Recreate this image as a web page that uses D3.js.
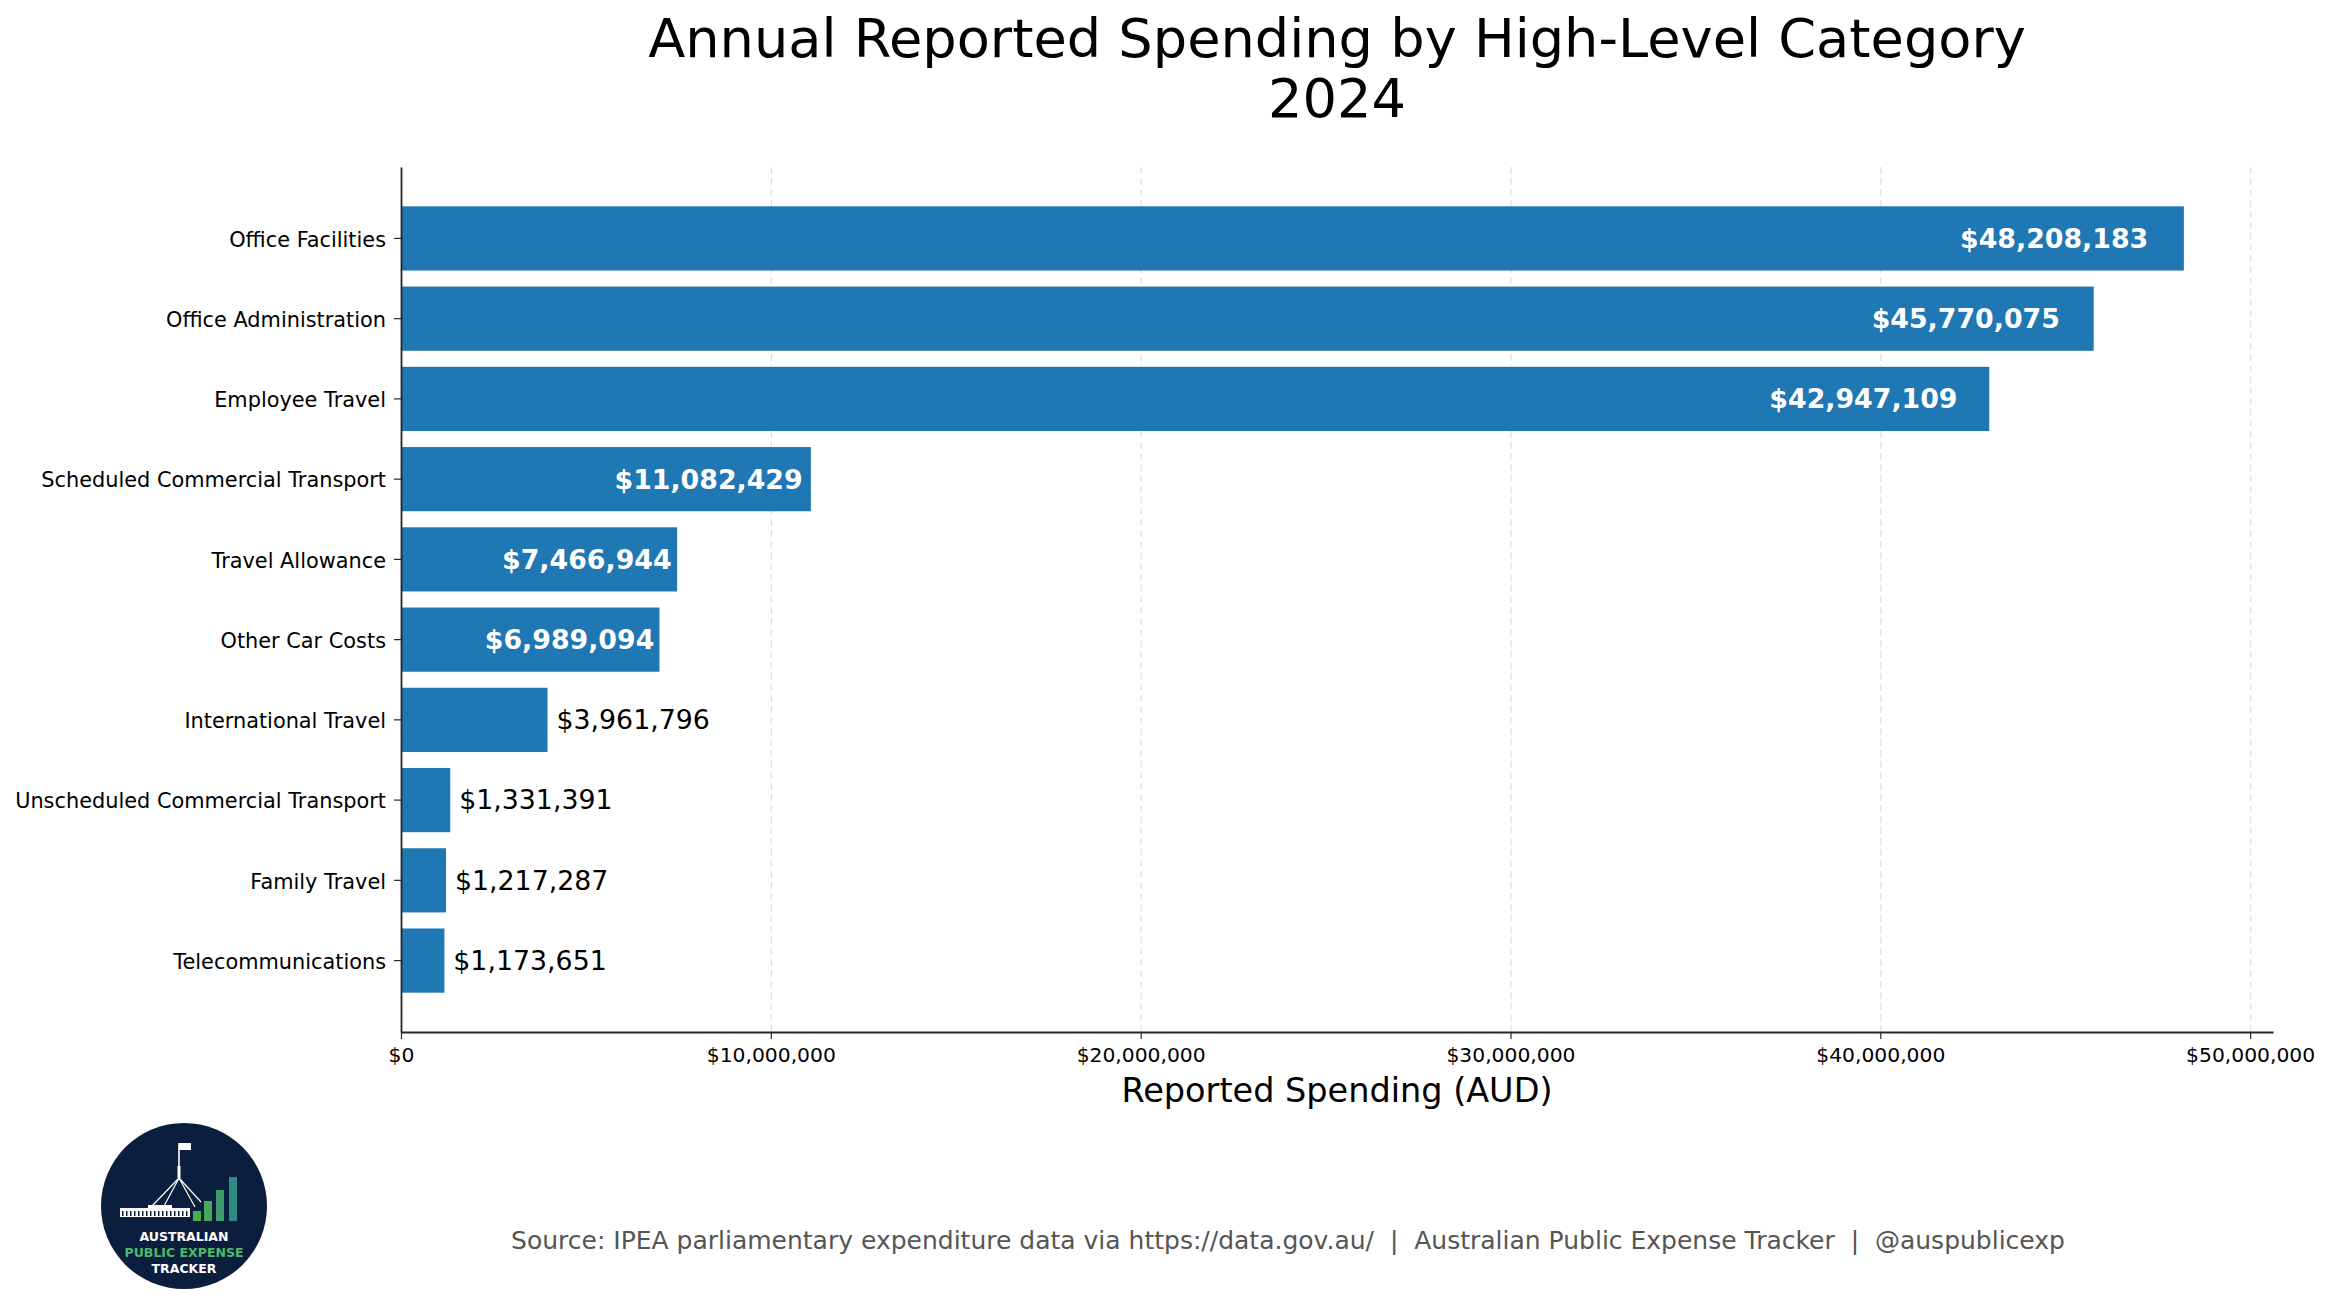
<!DOCTYPE html>
<html>
<head>
<meta charset="utf-8">
<script src="https://cdn.jsdelivr.net/npm/d3@7"></script>
<style>
  body { margin: 0; background: #fff; }
  text { font-family: "DejaVu Sans", sans-serif; }
</style>
</head>
<body>
<div id="chart"></div>
<script>
// Data
var categories = [
  "Office Facilities",
  "Office Administration",
  "Employee Travel",
  "Scheduled Commercial Transport",
  "Travel Allowance",
  "Other Car Costs",
  "International Travel",
  "Unscheduled Commercial Transport",
  "Family Travel",
  "Telecommunications"
];
var spending = [48208183, 45770075, 42947109, 11082429, 7466944, 6989094, 3961796, 1331391, 1217287, 1173651];
var xTicks = [0, 10000000, 20000000, 30000000, 40000000, 50000000];

var titleLines = ["Annual Reported Spending by High-Level Category", "2024"];
var xLabel = "Reported Spending (AUD)";
var sourceText = "Source: IPEA parliamentary expenditure data via https://data.gov.au/  |  Australian Public Expense Tracker  |  @auspublicexp";

var data = categories.map(function(c, i) { return { name: c, value: spending[i] }; });

// SVG area
var svgWidth = 2331;
var svgHeight = 1310;

var plot = { left: 401, right: 2273, top: 167, bottom: 1032 };

var svg = d3.select("#chart")
  .append("svg")
  .attr("width", svgWidth)
  .attr("height", svgHeight);

var maxVal = d3.max(spending);

// Scales
var xScale = d3.scaleLinear()
  .domain([0, maxVal * 1.05])
  .range([plot.left, plot.right]);

var yScale = d3.scaleBand()
  .domain(categories)
  .range([plot.top, plot.bottom])
  .paddingInner(0.2)
  .paddingOuter(0.49);

var money = d3.format("$,.0f");

// Grid lines (dashed, light)
var grid = svg.append("g")
  .attr("transform", "translate(0," + plot.bottom + ")")
  .call(d3.axisBottom(xScale).tickValues(xTicks).tickSize(-(plot.bottom - plot.top)).tickFormat(""));
grid.select(".domain").remove();
grid.selectAll("line")
  .attr("stroke", "#e2e2e2")
  .attr("stroke-width", 1.3)
  .attr("stroke-dasharray", "7,4");

// Bars
svg.append("g").selectAll("rect")
  .data(data)
  .enter()
  .append("rect")
  .attr("x", xScale(0))
  .attr("y", d => yScale(d.name))
  .attr("width", d => xScale(d.value) - xScale(0))
  .attr("height", yScale.bandwidth())
  .attr("fill", "#1f77b4");

// Value labels: inside for big bars, outside for small ones
svg.append("g").selectAll("text")
  .data(data)
  .enter()
  .append("text")
  .text(d => money(d.value))
  .attr("x", function(d) {
    if (d.value > maxVal * 0.1) return xScale(d.value * 0.98);
    return xScale(d.value + maxVal * 0.005);
  })
  .attr("y", d => yScale(d.name) + yScale.bandwidth() / 2)
  .attr("dy", "0.35em")
  .attr("text-anchor", d => d.value > maxVal * 0.1 ? "end" : "start")
  .attr("font-weight", d => d.value > maxVal * 0.1 ? "bold" : "normal")
  .attr("fill", d => d.value > maxVal * 0.1 ? "#ffffff" : "#000000")
  .attr("font-size", "26.8px");

// Axes
var bottomAxis = d3.axisBottom(xScale)
  .tickValues(xTicks)
  .tickFormat(d3.format("$,.0f"))
  .tickSizeOuter(0)
  .tickSizeInner(7)
  .tickPadding(9);

var leftAxis = d3.axisLeft(yScale)
  .tickSizeOuter(0)
  .tickSizeInner(7)
  .tickPadding(8);

var xAxisG = svg.append("g")
  .attr("transform", "translate(0," + plot.bottom + ")")
  .call(bottomAxis);
xAxisG.select(".domain").attr("stroke", "#262626").attr("stroke-width", 1.8);
xAxisG.selectAll(".tick line").attr("stroke", "#262626").attr("stroke-width", 1.2);
xAxisG.selectAll(".tick text")
  .attr("font-family", "DejaVu Sans")
  .attr("font-size", "20.3px")
  .attr("fill", "#000");

var yAxisG = svg.append("g")
  .attr("transform", "translate(" + plot.left + ",0)")
  .call(leftAxis);
yAxisG.select(".domain").attr("stroke", "#262626").attr("stroke-width", 1.8);
yAxisG.selectAll(".tick line").attr("stroke", "#262626").attr("stroke-width", 1.2);
yAxisG.selectAll(".tick text")
  .attr("font-family", "DejaVu Sans")
  .attr("font-size", "20.85px")
  .attr("dy", "0.4em")
  .attr("fill", "#000");

// Axis label
svg.append("text")
  .attr("x", (plot.left + plot.right) / 2)
  .attr("y", 1102)
  .attr("text-anchor", "middle")
  .attr("font-size", "33.5px")
  .attr("fill", "#000")
  .text(xLabel);

// Title
svg.append("g").selectAll("text")
  .data(titleLines)
  .enter()
  .append("text")
  .attr("x", (plot.left + plot.right) / 2)
  .attr("y", (d, i) => 57 + i * 60)
  .attr("text-anchor", "middle")
  .attr("font-size", "54.2px")
  .attr("fill", "#000")
  .text(d => d);

// Source footer
svg.append("text")
  .attr("x", 1288)
  .attr("y", 1249)
  .attr("text-anchor", "middle")
  .attr("font-size", "25px")
  .attr("fill", "#555555")
  .attr("xml:space", "preserve")
  .style("white-space", "pre")
  .text(sourceText);

// Logo badge
var logo = svg.append("g").attr("transform", "translate(184,1206)");
logo.append("circle").attr("r", 83).attr("fill", "#0c1e3d");

// flag + pole
logo.append("rect").attr("x", -5).attr("y", -63).attr("width", 12).attr("height", 7).attr("fill", "#ffffff");
logo.append("line").attr("x1", -5).attr("y1", -63).attr("x2", -5).attr("y2", -28)
  .attr("stroke", "#ffffff").attr("stroke-width", 1.6);
logo.append("rect").attr("x", -6.5).attr("y", -40).attr("width", 3).attr("height", 12).attr("fill", "#ffffff");
[[-33, 1], [-21, 2], [11, 1], [17, -4]].forEach(function(p) {
  logo.append("line").attr("x1", -5).attr("y1", -28).attr("x2", p[0]).attr("y2", p[1])
    .attr("stroke", "#ffffff").attr("stroke-width", 1.2);
});
// building
logo.append("rect").attr("x", -64).attr("y", 2).attr("width", 70).attr("height", 9).attr("fill", "#ffffff");
logo.append("rect").attr("x", -36).attr("y", -1).attr("width", 24).attr("height", 3).attr("fill", "#ffffff");
d3.range(-62, 4, 4).forEach(function(x) {
  logo.append("rect").attr("x", x).attr("y", 5).attr("width", 1.5).attr("height", 5).attr("fill", "#0c1e3d");
});
// little bar chart
[[9, 10, "#4caf50"], [20, 20, "#47a85a"], [32, 31, "#3f9a6c"], [45, 44, "#2e8b86"]].forEach(function(b) {
  logo.append("rect").attr("x", b[0]).attr("y", 15 - b[1]).attr("width", 8).attr("height", b[1]).attr("fill", b[2]);
});
logo.append("text").attr("y", 35).attr("text-anchor", "middle").attr("font-size", "12.5px")
  .attr("font-weight", "bold").attr("fill", "#ffffff").text("AUSTRALIAN");
logo.append("text").attr("y", 51).attr("text-anchor", "middle").attr("font-size", "12.5px")
  .attr("font-weight", "bold").attr("fill", "#4cbb6a").text("PUBLIC EXPENSE");
logo.append("text").attr("y", 67).attr("text-anchor", "middle").attr("font-size", "12.5px")
  .attr("font-weight", "bold").attr("fill", "#ffffff").text("TRACKER");
</script>
</body>
</html>
